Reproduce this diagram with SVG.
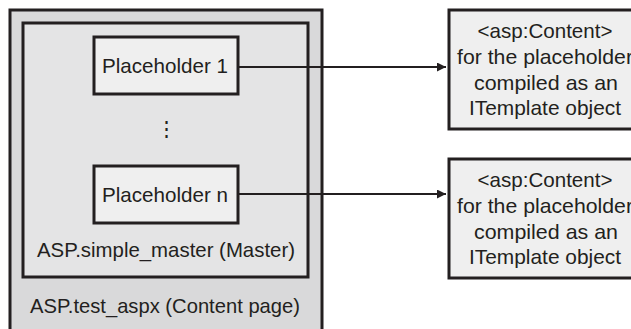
<svg xmlns="http://www.w3.org/2000/svg" width="631" height="329" viewBox="0 0 631 329">
<defs>
<style>
.box{stroke:#231f20;stroke-width:3}
.outer{fill:#d9d9da}
.inner{fill:#e4e4e5}
.ph{fill:#efefef}
.t{font-family:"Liberation Sans",Arial,sans-serif;font-size:21px;fill:#231f20;text-anchor:middle}
.conn{stroke:#231f20;stroke-width:2;fill:none}
</style>
<marker id="arr" viewBox="0 0 10 10" refX="10" refY="5" markerWidth="9" markerHeight="9" markerUnits="userSpaceOnUse" orient="auto">
<path d="M0 0 L10 5 L0 10 Z" fill="#231f20"/>
</marker>
</defs>
<rect width="631" height="329" fill="#ffffff"/>
<g id="content-page">
<rect class="box outer" x="10" y="10" width="312" height="330"/>
<text class="t" x="165" y="313" textLength="270" lengthAdjust="spacingAndGlyphs">ASP.test_aspx (Content page)</text>
</g>
<g id="master">
<rect class="box inner" x="23" y="23" width="285" height="254"/>
<text class="t" x="166" y="257" textLength="258" lengthAdjust="spacingAndGlyphs">ASP.simple_master (Master)</text>
<text class="t" x="166" y="136">⋮</text>
</g>
<g id="placeholder-1">
<rect class="box ph" x="94" y="37" width="144" height="57"/>
<text class="t" x="165" y="73" textLength="126" lengthAdjust="spacingAndGlyphs">Placeholder 1</text>
</g>
<g id="placeholder-n">
<rect class="box ph" x="94" y="166" width="144" height="57"/>
<text class="t" x="165" y="202" textLength="126" lengthAdjust="spacingAndGlyphs">Placeholder n</text>
</g>
<g id="content-1">
<rect class="box ph" x="449" y="10" width="195" height="119"/>
<text class="t" x="545" y="38" textLength="135" lengthAdjust="spacingAndGlyphs">&lt;asp:Content&gt;</text>
<text class="t" x="545" y="64" textLength="176" lengthAdjust="spacingAndGlyphs">for the placeholder</text>
<text class="t" x="546" y="90" textLength="144" lengthAdjust="spacingAndGlyphs">compiled as an</text>
<text class="t" x="545" y="115" textLength="152" lengthAdjust="spacingAndGlyphs">ITemplate object</text>
</g>
<g id="content-n">
<rect class="box ph" x="449" y="159" width="195" height="119"/>
<text class="t" x="545" y="187" textLength="135" lengthAdjust="spacingAndGlyphs">&lt;asp:Content&gt;</text>
<text class="t" x="545" y="213" textLength="176" lengthAdjust="spacingAndGlyphs">for the placeholder</text>
<text class="t" x="546" y="239" textLength="144" lengthAdjust="spacingAndGlyphs">compiled as an</text>
<text class="t" x="545" y="264" textLength="152" lengthAdjust="spacingAndGlyphs">ITemplate object</text>
</g>
<g id="connectors">
<path class="conn" d="M239 67 H446" marker-end="url(#arr)"/>
<path class="conn" d="M239 194 H446" marker-end="url(#arr)"/>
</g>
</svg>
